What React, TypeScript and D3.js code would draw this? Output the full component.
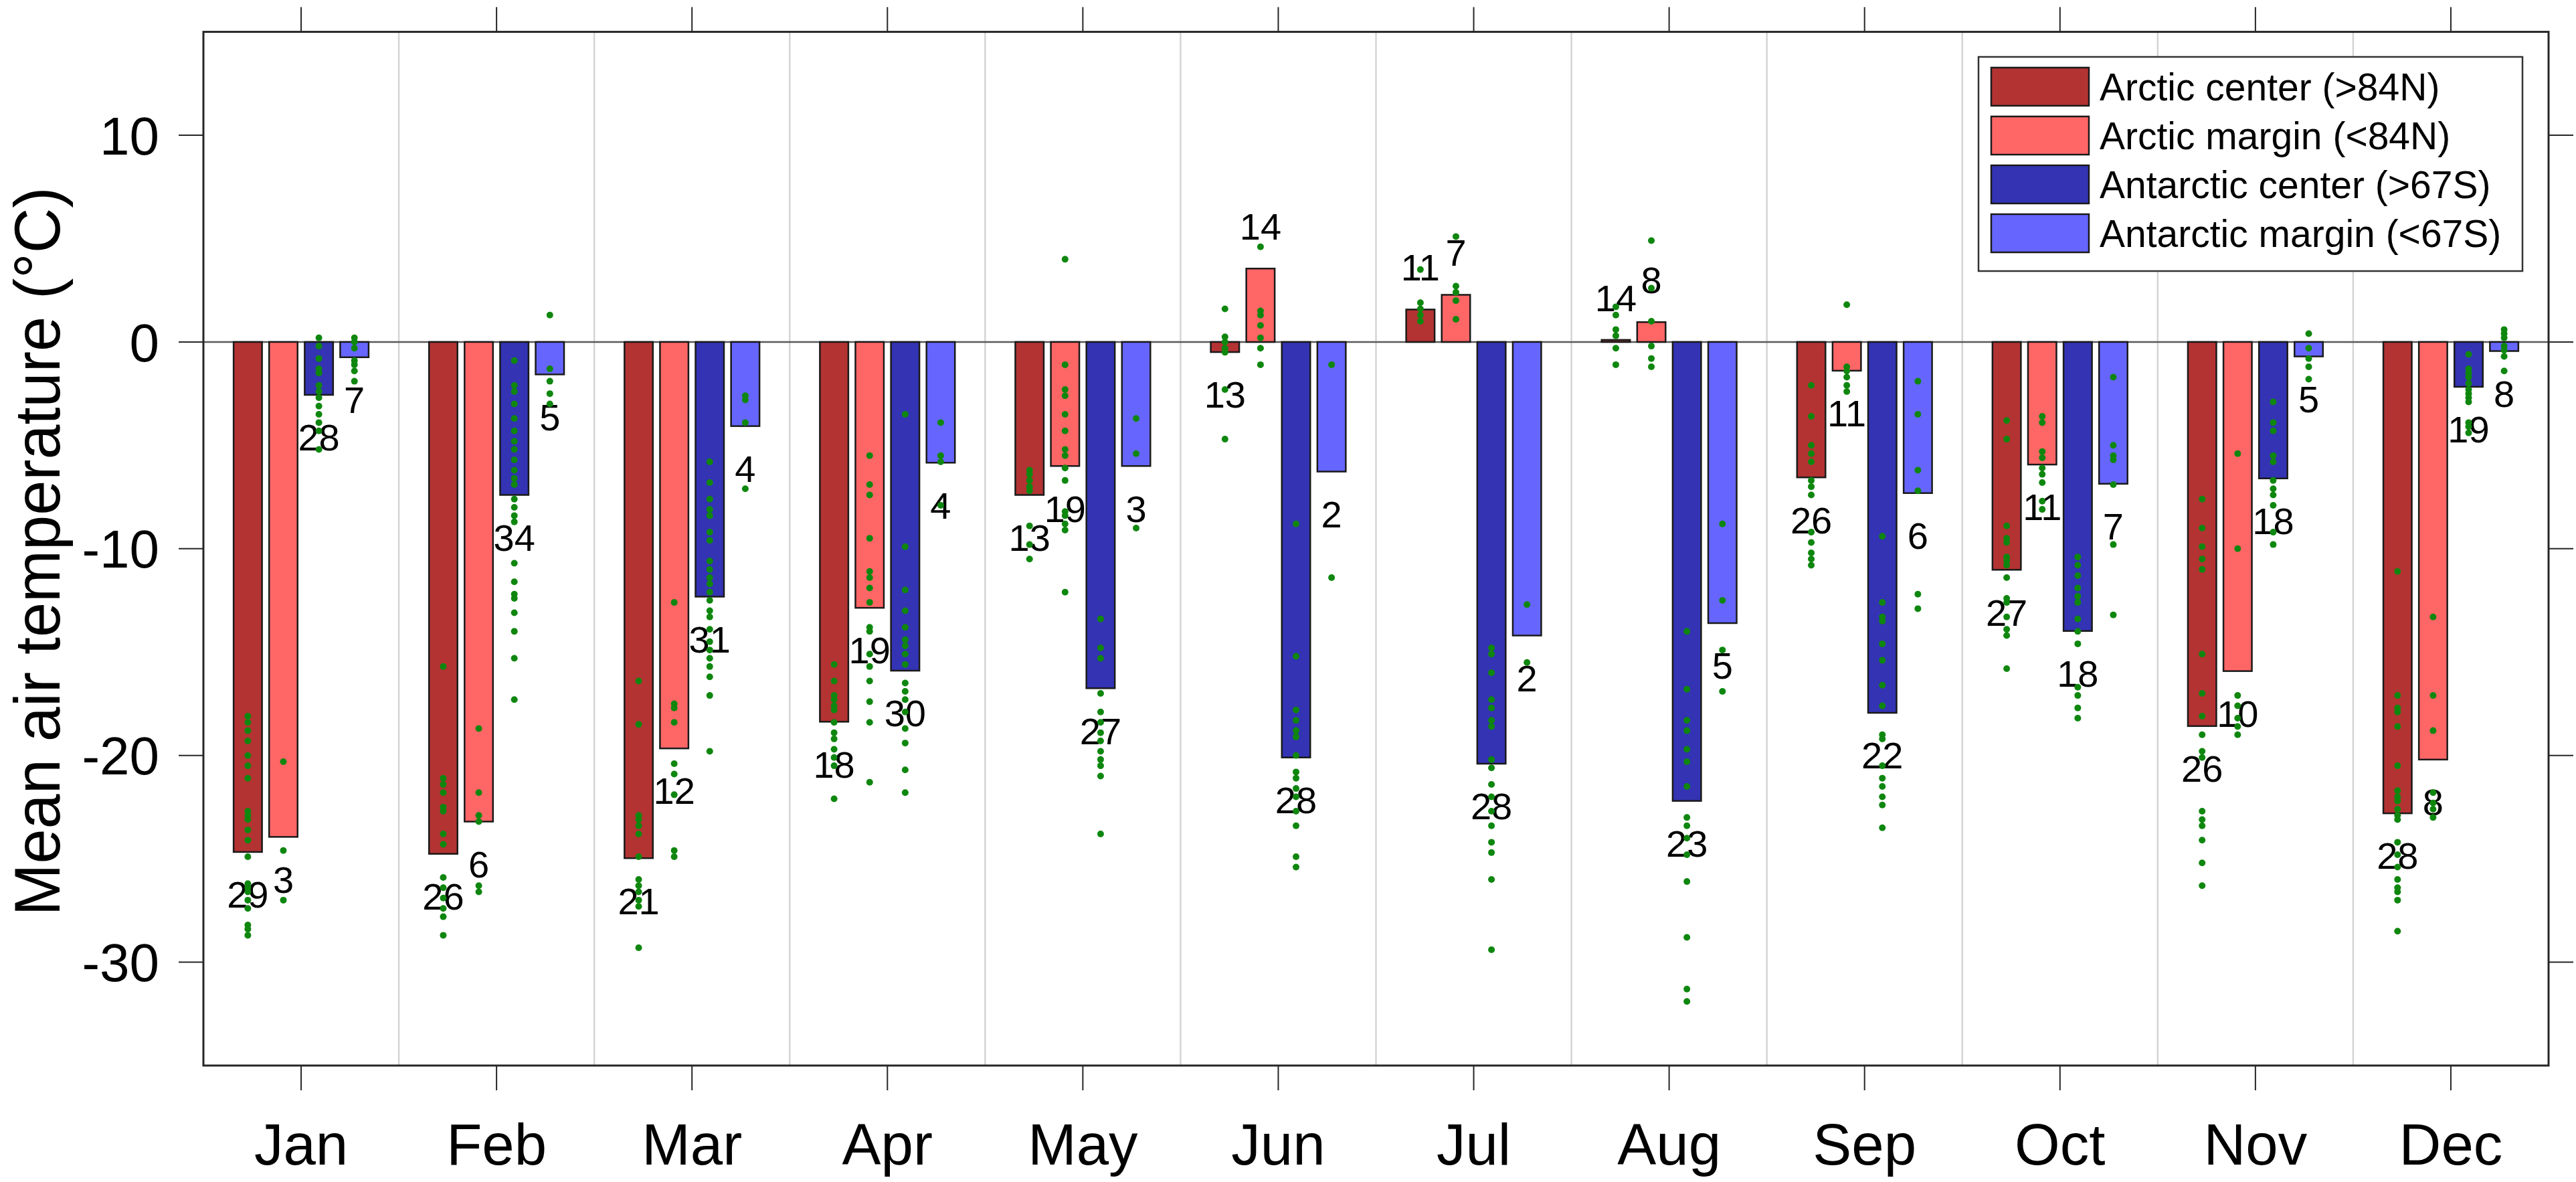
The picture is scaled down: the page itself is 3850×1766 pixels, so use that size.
import React from "react";
import * as d3 from "d3";

const months = ["Jan", "Feb", "Mar", "Apr", "May", "Jun", "Jul", "Aug", "Sep", "Oct", "Nov", "Dec"];
const seriesNames = ["Arctic center (>84N)", "Arctic margin (<84N)", "Antarctic center (>67S)", "Antarctic margin (<67S)"];
const seriesColors = ["#B33333", "#FF6666", "#3333B3", "#6666FF"];
const yTicks = [-30, -20, -10, 0, 10];

const arcticCenter = [-24.67, -24.76, -24.97, -18.37, -7.4, -0.49, 1.57, 0.1, -6.55, -11.02, -18.58, -22.8];
const arcticMargin = [-23.94, -23.2, -19.66, -12.86, -6.0, 3.55, 2.28, 0.96, -1.39, -5.93, -15.92, -20.2];
const antarcticCenter = [-2.56, -7.4, -12.32, -15.9, -16.75, -20.1, -20.4, -22.2, -17.94, -13.98, -6.6, -2.17];
const antarcticMargin = [-0.74, -1.57, -4.07, -5.84, -6.0, -6.27, -14.2, -13.6, -7.31, -6.86, -0.7, -0.44];

const countArcticCenter = [29, 26, 21, 18, 13, 13, 11, 14, 26, 27, 26, 28];
const countArcticMargin = [3, 6, 12, 19, 19, 14, 7, 8, 11, 11, 10, 8];
const countAntarcticCenter = [28, 34, 31, 30, 27, 28, 28, 23, 22, 18, 18, 19];
const countAntarcticMargin = [7, 5, 4, 4, 3, 2, 2, 5, 6, 7, 5, 8];

const dotsArcticCenter = [
  [-18.1, -18.4, -18.8, -19.3, -20.0, -20.5, -21.1, -22.7, -22.9, -23.1, -23.6, -24.1, -24.9, -26.2, -26.4, -26.6, -27.0, -27.4, -28.2, -28.4, -28.7],
  [-15.7, -21.1, -21.4, -21.8, -22.5, -22.7, -23.8, -24.3, -25.9, -26.4, -26.9, -27.4, -27.8, -28.7],
  [-16.4, -18.5, -22.9, -23.1, -23.4, -23.8, -24.9, -26.0, -26.3, -26.6, -27.0, -27.3, -29.3],
  [-15.6, -16.4, -17.1, -17.3, -17.6, -17.8, -18.4, -18.9, -19.2, -19.7, -20.1, -20.5, -22.1],
  [-6.2, -6.4, -6.7, -7.0, -7.2, -8.9, -9.8, -10.5],
  [1.6, 0.25, 0.0, -0.3, -0.5, -2.3, -4.7],
  [3.5, 1.9, 1.6, 1.3, 1.0],
  [1.7, 1.3, 0.6, 0.3, -0.3, -1.1],
  [-2.1, -3.6, -5.0, -5.4, -5.8, -6.7, -7.0, -7.4, -9.2, -9.7, -10.2, -10.5, -10.8],
  [-3.8, -4.7, -8.9, -9.5, -9.7, -10.4, -10.6, -10.8, -11.4, -12.4, -12.6, -13.3, -13.9, -14.2, -15.8],
  [-7.6, -9.0, -9.9, -10.5, -11.0, -15.1, -17.0, -18.1, -19.0, -19.8, -20.1, -22.7, -23.1, -23.4, -24.1, -25.2, -26.3],
  [-11.1, -17.1, -17.7, -17.9, -18.6, -20.5, -21.7, -22.0, -22.2, -22.6, -22.9, -23.1, -24.2, -24.8, -25.4, -26.0, -26.4, -26.6, -27.0, -28.5],
];
const dotsArcticMargin = [
  [-20.3, -24.6, -27.0],
  [-18.7, -21.8, -22.9, -23.2, -26.3, -26.6],
  [-12.6, -17.5, -17.7, -18.4, -20.4, -20.9, -21.9, -24.6, -24.9],
  [-5.5, -6.9, -7.4, -9.5, -11.1, -11.4, -11.9, -12.6, -13.8, -14.0, -15.1, -15.7, -16.4, -17.4, -18.4, -21.3],
  [4.0, -1.1, -2.3, -2.6, -3.5, -4.3, -5.2, -5.5, -6.1, -6.7, -8.2, -8.4, -8.8, -9.1, -12.1],
  [4.6, 1.5, 1.3, 0.8, 0.2, -0.3, -1.1],
  [5.1, 2.7, 2.4, 2.0, 1.1],
  [4.9, 2.6, 1.0, -0.2, -0.8, -1.2],
  [1.8, -1.2, -1.4, -1.7, -2.1, -2.4],
  [-3.6, -3.9, -5.3, -5.6, -6.1, -6.4, -6.8, -7.7, -8.1],
  [-5.4, -10.0, -17.1, -17.6, -18.2, -18.6, -19.0],
  [-13.3, -17.1, -18.8, -21.8, -22.3, -22.6, -23.0],
];
const dotsAntarcticCenter = [
  [0.2, -0.2, -0.8, -1.3, -1.5, -2.1, -2.4, -2.7, -3.1, -3.5, -3.9, -4.3, -5.2],
  [-0.9, -2.1, -2.4, -3.0, -3.7, -4.3, -4.8, -5.2, -5.7, -6.2, -6.6, -6.9, -7.6, -8.0, -8.4, -8.7, -10.7, -11.6, -12.2, -12.4, -13.1, -14.0, -15.3, -17.3],
  [-5.8, -6.8, -7.6, -8.1, -8.4, -9.2, -9.6, -10.6, -11.0, -11.4, -11.7, -12.1, -12.5, -13.0, -13.3, -13.9, -14.5, -14.9, -15.3, -15.7, -16.2, -17.1, -19.8],
  [-3.5, -9.9, -12.0, -13.0, -13.8, -14.4, -14.7, -15.1, -15.6, -16.5, -16.9, -17.3, -17.9, -18.7, -19.4, -20.7, -21.8],
  [-13.4, -14.8, -15.3, -17.0, -17.9, -18.4, -18.9, -19.3, -19.8, -20.2, -20.5, -21.0, -23.8],
  [-8.8, -15.2, -17.8, -18.3, -18.8, -19.1, -20.0, -20.8, -21.1, -21.6, -22.0, -22.7, -23.4, -24.9, -25.4],
  [-14.8, -15.1, -16.0, -17.3, -17.7, -18.3, -18.6, -20.2, -20.6, -21.4, -22.0, -22.7, -23.4, -24.2, -24.7, -26.0, -29.4],
  [-14.0, -16.8, -18.3, -18.8, -19.7, -20.3, -21.5, -23.0, -23.4, -24.0, -24.8, -26.1, -28.8, -31.3, -31.9],
  [-9.4, -12.6, -13.3, -13.5, -14.6, -15.4, -16.6, -17.6, -19.0, -19.2, -20.5, -21.1, -21.5, -22.0, -22.4, -23.5],
  [-10.4, -10.8, -11.3, -11.9, -12.3, -12.6, -13.4, -14.0, -14.6, -16.7, -17.1, -17.7, -18.2],
  [-2.9, -3.9, -4.3, -5.5, -5.8, -6.7, -7.1, -7.4, -7.9, -9.2, -9.8],
  [-0.6, -1.3, -1.5, -1.7, -2.0, -2.3, -2.5, -2.7, -2.9, -3.9, -4.1, -4.4],
];
const dotsAntarcticMargin = [
  [0.2, 0.0, -0.3, -0.9, -1.1, -1.4, -1.9],
  [1.3, -1.3, -1.9, -2.5, -3.0],
  [-2.6, -2.8, -3.9, -7.1],
  [-3.9, -5.5, -5.8, -7.9],
  [-3.7, -5.4, -9.0],
  [-1.1, -11.4],
  [-12.7, -15.5],
  [-8.8, -12.5, -14.9, -16.9],
  [-1.9, -3.5, -6.2, -7.2, -12.2, -12.9],
  [-1.7, -5.0, -5.5, -5.7, -6.9, -9.8, -13.2],
  [0.4, -0.3, -0.8, -1.2, -1.8],
  [0.6, 0.4, 0.2, -0.2, -0.4, -0.7, -1.4],
];

const W = 3850;
const H = 1766;
const FONT = "'Liberation Sans', Arial, Helvetica, sans-serif";
const AXIS = "#262626";

export default function App() {
  const values = [arcticCenter, arcticMargin, antarcticCenter, antarcticMargin];
  const counts = [countArcticCenter, countArcticMargin, countAntarcticCenter, countAntarcticMargin];
  const dots = [dotsArcticCenter, dotsArcticMargin, dotsAntarcticCenter, dotsAntarcticMargin];

  const x = d3.scaleLinear().domain([0.5, 12.5]).range([304, 3809]);
  const y = d3.scaleLinear().domain([-35, 15]).range([1592, 47.6]);
  const nS = values.length;
  const groupW = Math.min(0.8, nS / (nS + 1.5));
  const step = groupW / nS;
  const barW = x(step * 0.8) - x(0);
  const off = (i: number) => (i - (nS - 1) / 2) * step;

  const [x0, x1] = x.range();
  const [yb, yt] = y.range();
  const tickLen = 37;
  const boundaries = d3.range(1.5, 12.5, 1);

  return (
    <svg width={W} height={H} style={{ position: "absolute", left: 0, top: 0, background: "#fff" }} fontFamily={FONT}>
      <rect x={0} y={0} width={W} height={H} fill="#fff" />
      {/* grid lines between months */}
      {boundaries.map((b) => (
        <line key={"g" + b} x1={x(b)} x2={x(b)} y1={yt} y2={yb} stroke="#d4d4d4" strokeWidth={2.5} />
      ))}
      {/* zero line */}
      <line x1={x0} x2={x1} y1={y(0)} y2={y(0)} stroke="#5a5a5a" strokeWidth={2.5} />
      {/* bars */}
      {values.map((vals, s) =>
        vals.map((v, m) => {
          const cx = x(m + 1 + off(s));
          const top = Math.min(y(v), y(0));
          const h = Math.abs(y(v) - y(0));
          return (
            <rect key={`b${s}-${m}`} x={cx - barW / 2} y={top} width={barW} height={Math.max(h, 0.5)}
              fill={seriesColors[s]} stroke="#1a1a1a" strokeWidth={2.5} />
          );
        })
      )}
      {/* count labels */}
      {counts.map((cs, s) =>
        cs.map((c, m) => {
          const v = values[s][m];
          const ly = v >= 0 ? v + 2.05 : v - 2.05;
          return (
            <text key={`t${s}-${m}`} x={x(m + 1 + off(s))} y={y(ly) + 20} textAnchor="middle" fontSize={56} fill="#000">
              {c}
            </text>
          );
        })
      )}
      {/* individual values */}
      {dots.map((ser, s) =>
        ser.map((arr, m) =>
          arr.map((d, k) => (
            <circle key={`d${s}-${m}-${k}`} cx={x(m + 1 + off(s))} cy={y(d)} r={5} fill="#0f870f" />
          ))
        )
      )}
      {/* axes box */}
      <rect x={x0} y={yt} width={x1 - x0} height={yb - yt} fill="none" stroke={AXIS} strokeWidth={3} />
      {/* x ticks bottom & top */}
      {months.map((mName, i) => (
        <g key={"xt" + i}>
          <line x1={x(i + 1)} x2={x(i + 1)} y1={yb} y2={yb + tickLen} stroke={AXIS} strokeWidth={2} />
          <line x1={x(i + 1)} x2={x(i + 1)} y1={yt} y2={yt - tickLen} stroke={AXIS} strokeWidth={2} />
          <text x={x(i + 1)} y={1740} textAnchor="middle" fontSize={87} fill="#000">
            {mName}
          </text>
        </g>
      ))}
      {/* y ticks left & right */}
      {yTicks.map((t) => (
        <g key={"yt" + t}>
          <line x1={x0} x2={x0 - tickLen} y1={y(t)} y2={y(t)} stroke={AXIS} strokeWidth={2} />
          <line x1={x1} x2={x1 + tickLen} y1={y(t)} y2={y(t)} stroke={AXIS} strokeWidth={2} />
          <text x={238} y={y(t) + 28.6} textAnchor="end" fontSize={80} fill="#000">
            {String(t)}
          </text>
        </g>
      ))}
      {/* y label */}
      <text transform={`translate(89, 824) rotate(-90)`} textAnchor="middle" fontSize={97} fill="#000"
        textLength={1089} lengthAdjust="spacingAndGlyphs">
        Mean air temperature (°C)
      </text>
      {/* legend */}
      <g>
        <rect x={2957} y={85} width={813} height={320} fill="#fff" stroke="#333" strokeWidth={2.5} />
        {seriesNames.map((nm, i) => {
          const top = 101 + i * 73;
          return (
            <g key={"l" + i}>
              <rect x={2976} y={top} width={146} height={57} fill={seriesColors[i]} stroke="#1a1a1a" strokeWidth={2.5} />
              <text x={3138} y={top + 28.5 + 20.4} fontSize={57} fill="#000">
                {nm}
              </text>
            </g>
          );
        })}
      </g>
    </svg>
  );
}
